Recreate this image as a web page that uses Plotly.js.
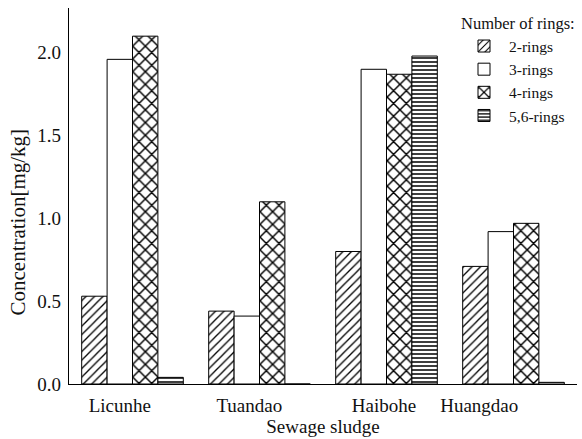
<!DOCTYPE html>
<html>
<head>
<meta charset="utf-8">
<script src="https://cdn.plot.ly/plotly-3.0.1.min.js"></script>
<style>
  html, body { margin: 0; padding: 0; background: #fff; }
  #chart { width: 582px; height: 439px; }
</style>
</head>
<body>
<div id="chart"></div>
<script>
// PAH concentration in sewage sludge, grouped by number of aromatic rings
const sites = ['Licunhe', 'Tuandao', 'Haibohe', 'Huangdao'];
const ringGroups = ['2-rings', '3-rings', '4-rings', '5,6-rings'];

const rings2 = [0.53, 0.44, 0.80, 0.71];
const rings3 = [1.96, 0.41, 1.90, 0.92];
const rings4 = [2.10, 1.10, 1.87, 0.97];
const rings56 = [0.04, 0.00, 1.98, 0.01];

const seriesValues = [rings2, rings3, rings4, rings56];

// hatch style per ring group
const patterns = [
  { shape: '/', size: 6, solidity: 0.22 },
  { shape: '' },
  { shape: 'x', size: 9, solidity: 0.3 },
  { shape: '-', size: 4, solidity: 0.38 }
];

const serif = 'Liberation Serif, Times New Roman, serif';
const sitePos = sites.map((_, i) => i);
// horizontal nudge of each site label under its bar group
const labelNudge = [-0.1, -0.08, -0.02, -0.27];

const traces = ringGroups.map((name, k) => ({
  type: 'bar',
  name: name,
  x: sitePos,
  y: seriesValues[k],
  marker: {
    color: '#ffffff',
    line: { color: '#000000', width: 1 },
    pattern: Object.assign({ fgcolor: '#000000', bgcolor: '#ffffff', fgopacity: 1, fillmode: 'overlay' }, patterns[k])
  },
  hoverinfo: 'x+y'
}));

const layout = {
  width: 582,
  height: 439,
  margin: { l: 69, r: 5, t: 8, b: 55 },
  paper_bgcolor: '#ffffff',
  plot_bgcolor: '#ffffff',
  barmode: 'group',
  bargap: 0.2,
  bargroupgap: 0,
  font: { family: serif, size: 19, color: '#111' },
  xaxis: {
    type: 'linear',
    range: [-0.5, 3.5],
    tickmode: 'array',
    tickvals: sitePos.map((p, i) => p + labelNudge[i]),
    ticktext: sites,
    ticks: '',
    ticklabelstandoff: 4,
    showgrid: false,
    zeroline: false,
    showline: true,
    linecolor: '#000',
    linewidth: 1.2,
    tickfont: { family: serif, size: 19 },
    title: { text: 'Sewage sludge', font: { family: serif, size: 19 }, standoff: 0 }
  },
  yaxis: {
    range: [0, 2.27],
    tickvals: [0, 0.5, 1.0, 1.5, 2.0],
    ticktext: ['0.0', '0.5', '1.0', '1.5', '2.0'],
    ticks: '',
    ticklabelstandoff: 3,
    showgrid: false,
    zeroline: false,
    showline: true,
    linecolor: '#000',
    linewidth: 1.2,
    tickfont: { family: serif, size: 19 }
  },
  // vertical axis title, sitting a little below the plot's midline
  annotations: [{
    text: 'Concentration[mg/kg]',
    textangle: -90,
    xref: 'paper', yref: 'paper',
    x: -0.1, y: 0.43,
    xanchor: 'center', yanchor: 'middle',
    showarrow: false,
    font: { family: serif, size: 21, color: '#111' }
  }],
  legend: {
    x: 1,
    xanchor: 'right',
    y: 1,
    yanchor: 'top',
    bgcolor: 'rgba(0,0,0,0)',
    borderwidth: 0,
    font: { family: serif, size: 15.5 },
    title: { text: 'Number of rings:', font: { family: serif, size: 16.5 } },
    tracegroupgap: 0,
    itemwidth: 40
  },
  showlegend: true
};

Plotly.newPlot('chart', traces, layout, { displayModeBar: false, staticPlot: true });
</script>
</body>
</html>
